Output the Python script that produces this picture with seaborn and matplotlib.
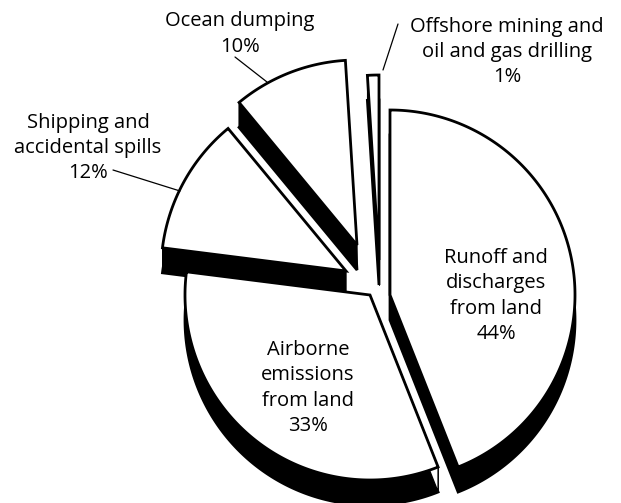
import numpy as np
import matplotlib
matplotlib.use("Agg")
import matplotlib.pyplot as plt
from matplotlib.patches import Polygon
import seaborn as sns

# ---- data ----
categories = ["Runoff and\ndischarges\nfrom land",
              "Airborne\nemissions\nfrom land",
              "Shipping and\naccidental spills",
              "Ocean dumping",
              "Offshore mining and\noil and gas drilling"]
values = [44, 33, 12, 10, 1]

# ---- style / layout ----
sns.set_theme(style="white")
plt.rcParams['font.family'] = ['Open Sans', 'DejaVu Sans']

R = 185.0          # radius in pixels
DEPTH = 25.0       # extrusion depth
apexes = [(390, 295), (370, 295), (346, 271), (357, 245), (379, 260)]
draw_order = [3, 4, 2, 0, 1]
label_pos = [(496, 296), (308, 388), (88, 148), (240, 34), (507, 52)]
leaders = {2: ((113, 170), (180, 191)),
           3: ((235, 57), (267, 82)),
           4: ((383, 70), (398, 24))}

fig = plt.figure(figsize=(6.21, 5.03), dpi=100)
ax = fig.add_axes([0, 0, 1, 1])
ax.set_xlim(0, 621)
ax.set_ylim(503, 0)
ax.axis("off")

total = float(sum(values))
starts = np.concatenate([[0], np.cumsum(values)[:-1]]) / total * 360.0
ends = np.cumsum(values) / total * 360.0


def wedge_pts(cx, cy, a0, a1):
    t = np.radians(np.linspace(a0, a1, max(4, int(abs(a1 - a0) * 2))))
    xs = cx + R * np.sin(t)
    ys = cy - R * np.cos(t)
    return np.vstack([[cx, cy], np.column_stack([xs, ys])])


lw = 2.0
for i in draw_order:
    cx, cy = apexes[i]
    z = 2 + 3 * draw_order.index(i)
    pts = wedge_pts(cx, cy, starts[i], ends[i])
    sh = pts + np.array([0, DEPTH])
    n = len(pts)
    for k in range(n):
        p, q = pts[k], pts[(k + 1) % n]
        quad = np.array([p, q, q + [0, DEPTH], p + [0, DEPTH]])
        ax.add_patch(Polygon(quad, closed=True, fc="black", ec="black", lw=0.6, zorder=z))
    ax.add_patch(Polygon(sh, closed=True, fc="black", ec="black", lw=lw, zorder=z))
    if i == 1:
        p = pts[0]
        q = pts[1]
        face = np.array([p, q, q + [0, DEPTH], p + [0, DEPTH]])
        ax.add_patch(Polygon(face, closed=True, fc="white", ec="black", lw=1.0, zorder=z + 1))
    ax.add_patch(Polygon(pts, closed=True, fc="white", ec="black", lw=lw, joinstyle="miter",
                         zorder=z + 2))

for i, (cat, v) in enumerate(zip(categories, values)):
    x, y = label_pos[i]
    ax.text(x, y, f"{cat}\n{v}%", ha="center", va="center", fontsize=14.5,
            linespacing=1.36, color="black", zorder=50)
    if i in leaders:
        (x0, y0), (x1, y1) = leaders[i]
        ax.plot([x0, x1], [y0, y1], color="black", lw=0.9, zorder=49)

fig.savefig("out.png", dpi=100, facecolor="white")
